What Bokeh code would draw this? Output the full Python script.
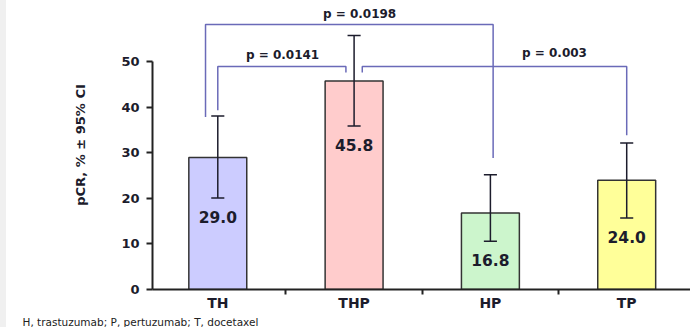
from bokeh.plotting import figure
from bokeh.models import (ColumnDataSource, FixedTicker, Title, Spacer, Range1d)
from bokeh.layouts import row
from bokeh.core.properties import value
from bokeh.embed import file_html
from bokeh.resources import INLINE

# ---- data ----
categories = ["TH", "THP", "HP", "TP"]
pcr = [29.0, 45.8, 16.8, 24.0]
ci_low = [20.1, 35.9, 10.6, 15.7]
ci_high = [38.1, 55.8, 25.2, 32.2]
bar_colors = ["#ccccff", "#ffcccc", "#ccf5cc", "#ffff99"]
y_ticks = [0, 10, 20, 30, 40, 50]
comparisons = [(0, 1, "p = 0.0141"), (1, 3, "p = 0.003"), (0, 2, "p = 0.0198")]
footnote = "H, trastuzumab; P, pertuzumab; T, docetaxel"

FONT = "DejaVu Sans"
BRACKET = "#6a6ab8"
DARK = "#1c1c2c"

idx = list(range(len(categories)))

p = figure(width=684, height=327, output_backend="svg", toolbar_location=None,
           x_range=Range1d(-0.479, 3.468), y_range=Range1d(0, 63.5),
           min_border_left=146, min_border_right=0, min_border_top=0,
           min_border_bottom=37, background_fill_color="white",
           border_fill_color="white", outline_line_color=None)
p.xgrid.visible = False
p.ygrid.visible = False

src = ColumnDataSource(dict(x=idx, top=pcr, lo=ci_low, hi=ci_high, color=bar_colors,
                            label=[f"{v:.1f}" for v in pcr],
                            ly=[l - 4.1 for l in ci_low],
                            cl=[i - 0.048 for i in idx], cr=[i + 0.048 for i in idx]))

p.vbar(x="x", top="top", width=0.425, bottom=0, fill_color="color",
       line_color="#333333", line_width=1.5, source=src)
p.segment(x0="x", y0="lo", x1="x", y1="hi", line_color=DARK, line_width=1.5, source=src)
p.segment(x0="cl", y0="lo", x1="cr", y1="lo", line_color=DARK, line_width=1.5, source=src)
p.segment(x0="cl", y0="hi", x1="cr", y1="hi", line_color=DARK, line_width=1.5, source=src)
p.text(x="x", y="ly", text="label", source=src, text_align="center",
       text_baseline="middle", text_font=value(FONT), text_font_style="bold",
       text_font_size="15.5px", text_color=DARK)

# significance brackets (geometry styling)
bracket_style = {
    (0, 1): dict(level=49.0, dx0=0.0, dx1=-0.06, g0=1.3, y1=47.7, tx=0.475, ty=51.6),
    (1, 3): dict(level=49.0, dx0=0.06, dx1=0.0, y0=47.7, g1=1.7, tx=2.47, ty=51.9),
    (0, 2): dict(level=58.2, dx0=-0.09, dx1=0.02, g0=-0.2, g1=3.7, tx=1.04, ty=60.6),
}
for a, b, txt in comparisons:
    s = bracket_style[(a, b)]
    xa, xb = a + s["dx0"], b + s["dx1"]
    ya = s["y0"] if "y0" in s else ci_high[a] + s["g0"]
    yb = s["y1"] if "y1" in s else ci_high[b] + s["g1"]
    p.line(x=[xa, xa, xb, xb], y=[ya, s["level"], s["level"], yb],
           line_color=BRACKET, line_width=1.5)
    p.text(x=[s["tx"]], y=[s["ty"]], text=[txt], text_align="center",
           text_baseline="middle", text_font=value(FONT), text_font_style="bold",
           text_font_size="12px", text_color=DARK)

# axes
xa_ = p.xaxis[0]
xa_.ticker = FixedTicker(ticks=idx, minor_ticks=[0.5, 1.5, 2.5])
xa_.major_label_overrides = {i: c for i, c in zip(idx, categories)}
xa_.major_tick_out = 0
xa_.major_tick_in = 0
xa_.minor_tick_out = 5
xa_.minor_tick_in = 0
xa_.minor_tick_line_width = 2
xa_.minor_tick_line_color = "#222222"
xa_.axis_line_width = 2
xa_.axis_line_color = "#222222"
xa_.major_label_text_font = FONT
xa_.major_label_text_font_style = "bold"
xa_.major_label_text_font_size = "14px"
xa_.major_label_text_color = DARK
xa_.major_label_standoff = 0

ya_ = p.yaxis[0]
ya_.ticker = FixedTicker(ticks=y_ticks)
ya_.bounds = (0, 50)
ya_.major_tick_out = 6
ya_.major_tick_in = 0
ya_.minor_tick_out = 0
ya_.minor_tick_in = 0
ya_.major_tick_line_width = 2
ya_.major_tick_line_color = "#222222"
ya_.axis_line_width = 2
ya_.axis_line_color = "#222222"
ya_.major_label_text_font = FONT
ya_.major_label_text_font_style = "bold"
ya_.major_label_text_font_size = "13px"
ya_.major_label_text_color = DARK
ya_.major_label_standoff = 7
ya_.axis_label = "pCR, % ± 95% CI"
ya_.axis_label_text_font = FONT
ya_.axis_label_text_font_style = "bold"
ya_.axis_label_text_font_size = "13px"
ya_.axis_label_text_color = DARK
ya_.axis_label_standoff = 30

p.add_layout(Title(text=footnote, align="left", offset=-130, standoff=0,
                   text_font=FONT, text_font_style="normal", text_font_size="10.5px",
                   text_line_height=0.6, text_color="#222222"), "below")

left_strip = Spacer(width=6, height=327, styles={"background-color": "#f0f0f0"})
layout = row(left_strip, p, spacing=0)

open("out.html", "w").write(file_html(layout, INLINE))
